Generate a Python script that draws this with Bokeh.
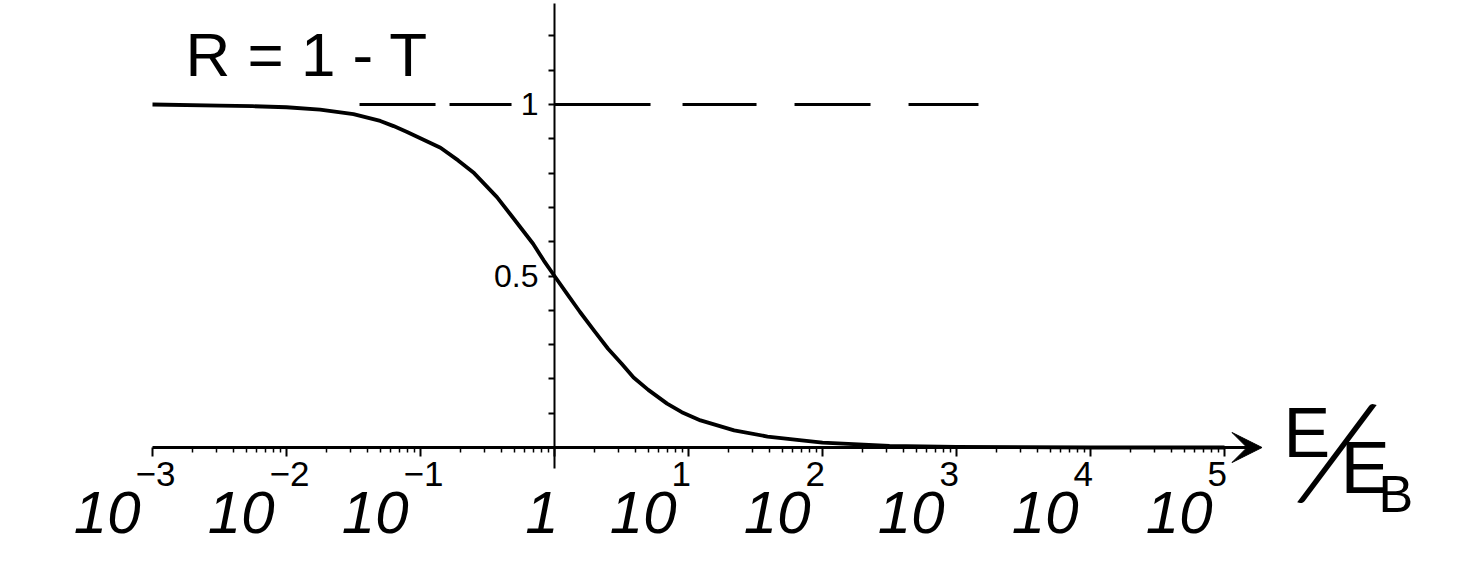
import numpy as np
from bokeh.plotting import figure
from bokeh.models import (Range1d, FixedTicker, CustomJSTickFormatter, Arrow, VeeHead,
                          ColumnDataSource)
from bokeh.core.properties import value
from bokeh.embed import file_html
from bokeh.resources import INLINE

# ---------------- data ----------------
energy_ratio = [0.001, 0.00316, 0.0056, 0.01, 0.0178, 0.0316, 0.0501, 0.063, 0.0794,
                0.141, 0.191, 0.251, 0.372, 0.468, 0.692, 0.832, 1.0, 1.23, 1.55,
                2.0, 2.51, 3.16, 3.89, 5.01, 6.92, 8.91, 12.3, 21.9, 38.9, 64.6,
                100.0, 316.0, 1000.0, 10000.0, 100000.0]
reflection = [1.0, 0.997, 0.995, 0.992, 0.985, 0.972, 0.952, 0.937, 0.920,
              0.874, 0.837, 0.80, 0.73, 0.68, 0.594, 0.545, 0.50, 0.45, 0.395,
              0.338, 0.288, 0.245, 0.204, 0.168, 0.128, 0.103, 0.079, 0.05,
              0.032, 0.022, 0.014, 0.005, 0.002, 0.0, 0.0]

x_ticks = [1e-3, 1e-2, 1e-1, 1.0, 1e1, 1e2, 1e3, 1e4, 1e5]
x_tick_base = ["10", "10", "10", "1", "10", "10", "10", "10", "10"]
x_tick_exp = ["\u22123", "\u22122", "\u22121", "", "1", "2", "3", "4", "5"]
x_minor = [m * 10.0 ** d for d in range(-3, 5) for m in range(2, 10)]

y_ticks = [0.1, 0.2, 0.3, 0.4, 0.5, 0.6, 0.7, 0.8, 0.9, 1.0, 1.1, 1.2]

asymptote = 1.0
asym_from, asym_to = 10 ** -1.455, 10 ** 3.164

title_text = "R = 1 - T"

FONT = value("Liberation Sans")

# pixel scale of the frame (px per decade, px per unit of R)
PX_DEC = 134.0
PX_R = 343.0

# ---------------- figure ----------------
p = figure(width=1456, height=558, x_axis_type="log",
           x_range=Range1d(10 ** -4.1343, 10 ** 6.7313),
           y_range=Range1d(-0.3236, 1.3032),
           output_backend="svg", toolbar_location=None, min_border=0)
p.grid.visible = False
p.outline_line_color = None
p.background_fill_color = "white"

# x axis crossing at R = 0
xa = p.xaxis[0]
xa.fixed_location = 0
xa.ticker = FixedTicker(ticks=x_ticks, minor_ticks=x_minor)
xa.formatter = CustomJSTickFormatter(code="return ''")
xa.bounds = (1e-3, 10 ** 5.2)
xa.axis_line_width = 3
xa.axis_line_color = "black"
xa.major_tick_in = 0
xa.major_tick_out = 9
xa.major_tick_line_width = 2
xa.minor_tick_in = 0
xa.minor_tick_out = 5
xa.minor_tick_line_width = 1.5

# y axis crossing at E/E_B = 1
ya = p.yaxis[0]
ya.fixed_location = 1
ya.ticker = FixedTicker(ticks=y_ticks, minor_ticks=[])
ya.formatter = CustomJSTickFormatter(code="""
    if (Math.abs(tick - 0.5) < 1e-6) return '0.5';
    if (Math.abs(tick - 1.0) < 1e-6) return '1';
    return '';
""")
ya.bounds = (-0.061, 1.294)
ya.axis_line_width = 2
ya.axis_line_color = "black"
ya.major_tick_in = 0
ya.major_tick_out = 6
ya.major_tick_line_width = 2
ya.minor_tick_out = 0
ya.minor_tick_in = 0
ya.major_label_text_font = "Liberation Sans"
ya.major_label_text_font_size = "32px"
ya.major_label_text_color = "black"
ya.major_label_standoff = 10

# arrow head on x axis
p.add_layout(Arrow(x_start=10 ** 5.0, y_start=0, x_end=10 ** 5.28, y_end=0,
                   line_width=3, line_color="black",
                   end=VeeHead(size=30, fill_color="black", line_color="black")))

# dashed asymptote at R = 1
p.line([asym_from, asym_to], [asymptote, asymptote], line_color="black",
       line_width=2.8, line_dash="76 14 62 43 96 32 74 38 76 38 70 100")

# curve
p.line(energy_ratio, reflection, line_color="black", line_width=3.8,
       line_join="round")

# x tick labels (positions derived from the tick values)
base_x = [t * 10 ** ((-12.0 if b == "10" else 4.0) / PX_DEC)
          for t, b in zip(x_ticks, x_tick_base)]
exp_x = [t * 10 ** (-17.0 / PX_DEC) for t in x_ticks]
src_base = ColumnDataSource(dict(x=base_x, y=[-65.0 / PX_R] * len(x_ticks),
                                 text=x_tick_base))
src_exp = ColumnDataSource(dict(x=exp_x, y=[-26.0 / PX_R] * len(x_ticks),
                                text=x_tick_exp))
p.text(x="x", y="y", text="text", source=src_base,
       text_align="right", text_baseline="middle", text_font=FONT,
       text_font_style="italic", text_font_size="60px", text_color="black")
p.text(x="x", y="y", text="text", source=src_exp,
       text_align="left", text_baseline="middle", text_font=FONT,
       text_font_size="35px", text_color="black")

# title R = 1 - T
p.text(x=[10 ** -2.754], y=[1.146], text=[title_text], text_align="left",
       text_baseline="middle", text_font=FONT, text_font_size="62px",
       text_color="black")

# axis label E / E_B
p.text(x=[10 ** 5.44], y=[0.0437], text=["E"], text_align="left",
       text_baseline="middle", text_font=FONT, text_font_size="70px",
       text_color="black")
p.text(x=[10 ** 5.85], y=[0.0], text=["/"], text_align="center",
       text_baseline="middle", text_font=value("Lato Light"), text_font_size="148px",
       angle=-0.25, text_color="black")
p.text(x=[10 ** 5.866], y=[-0.058], text=["E"], text_align="left",
       text_baseline="middle", text_font=FONT, text_font_size="74px",
       text_color="black")
p.text(x=[10 ** 6.149], y=[-0.137], text=["B"], text_align="left",
       text_baseline="middle", text_font=FONT, text_font_size="52px",
       text_color="black")

open("out.html", "w").write(file_html(p, INLINE))
